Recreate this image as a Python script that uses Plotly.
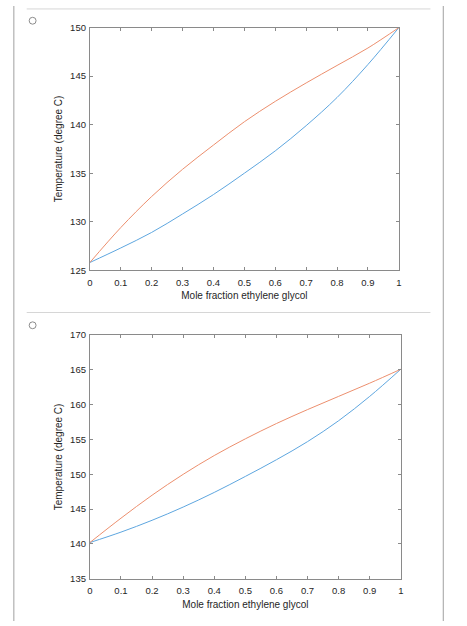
import plotly.graph_objects as go

W, H = 467, 626

x_frac = [0, 0.1, 0.2, 0.3, 0.4, 0.5, 0.6, 0.7, 0.8, 0.9, 1.0]

# Panel 1 (top)
p1_dew = [125.8, 129.4, 132.6, 135.4, 137.9, 140.3, 142.4, 144.3, 146.1, 147.9, 150.0]
p1_bubble = [125.8, 127.3, 128.9, 130.8, 132.8, 135.0, 137.3, 139.9, 142.8, 146.2, 150.0]

# Panel 2 (bottom)
p2_dew = [140.2, 143.7, 147.0, 150.0, 152.7, 155.1, 157.3, 159.3, 161.2, 163.1, 165.1]
p2_bubble = [140.2, 141.7, 143.4, 145.3, 147.4, 149.7, 152.1, 154.7, 157.7, 161.2, 165.1]

x_ticks = [0, 0.1, 0.2, 0.3, 0.4, 0.5, 0.6, 0.7, 0.8, 0.9, 1]
x_ticklabels = ["0", "0.1", "0.2", "0.3", "0.4", "0.5", "0.6", "0.7", "0.8", "0.9", "1"]
y1_ticks = [125, 130, 135, 140, 145, 150]
y2_ticks = [135, 140, 145, 150, 155, 160, 165, 170]

x_title = "Mole fraction ethylene glycol"
y_title = "Temperature (degree C)"

BLUE = "#5ea6df"
RED = "#ec8f6e"
AX = "#8a8a8a"
TXT = "#262626"
FONT = "Liberation Sans, Arial, Helvetica, sans-serif"

def px(x):
    return x / W

def py(y):
    return 1 - y / H

fig = go.Figure()
fig.add_trace(go.Scatter(x=x_frac, y=p1_bubble, mode="lines", line=dict(color=BLUE, width=1, shape="spline"),
                         xaxis="x", yaxis="y", showlegend=False, hoverinfo="skip"))
fig.add_trace(go.Scatter(x=x_frac, y=p1_dew, mode="lines", line=dict(color=RED, width=1, shape="spline"),
                         xaxis="x", yaxis="y", showlegend=False, hoverinfo="skip"))
fig.add_trace(go.Scatter(x=x_frac, y=p2_bubble, mode="lines", line=dict(color=BLUE, width=1, shape="spline"),
                         xaxis="x2", yaxis="y2", showlegend=False, hoverinfo="skip"))
fig.add_trace(go.Scatter(x=x_frac, y=p2_dew, mode="lines", line=dict(color=RED, width=1, shape="spline"),
                         xaxis="x2", yaxis="y2", showlegend=False, hoverinfo="skip"))

common_axis = dict(showline=True, linecolor=AX, linewidth=1, mirror="ticks", ticks="inside",
                   ticklen=3, tickcolor=AX, tickwidth=1, showgrid=False, zeroline=False,
                   tickfont=dict(family=FONT, size=9.5, color=TXT), fixedrange=True)

def xaxis(anchor, dom):
    d = dict(common_axis)
    d.update(domain=dom, anchor=anchor, range=[0, 1], tickvals=x_ticks, ticktext=x_ticklabels,
             ticklabelstandoff=3,
             title=dict(text=x_title, font=dict(family=FONT, size=10, color=TXT), standoff=5))
    return d

def yaxis(anchor, dom, rng, ticks):
    d = dict(common_axis)
    d.update(domain=dom, anchor=anchor, range=rng, tickvals=ticks, ticklabelstandoff=1,
             title=dict(text=y_title, font=dict(family=FONT, size=10, color=TXT), standoff=5))
    return d

fig.update_layout(
    width=W, height=H,
    margin=dict(l=0, r=0, t=0, b=0),
    paper_bgcolor="white", plot_bgcolor="white",
    xaxis=xaxis("y", [px(88), px(401)]),
    yaxis=yaxis("x", [py(269), py(22)], [125, 150], y1_ticks),
    xaxis2=xaxis("y2", [px(88), px(403)]),
    yaxis2=yaxis("x2", [py(583), py(335)], [135, 170], y2_ticks),
)

shapes = []
# outer vertical borders
shapes.append(dict(type="line", xref="paper", yref="paper", x0=px(11), x1=px(11), y0=0, y1=1,
                   line=dict(color="#a0a0a0", width=1)))
shapes.append(dict(type="line", xref="paper", yref="paper", x0=px(446), x1=px(446), y0=0, y1=1,
                   line=dict(color="#a0a0a0", width=1)))
# horizontal separators
for yy in (3, 312):
    shapes.append(dict(type="line", xref="paper", yref="paper", x0=px(24), x1=px(433), y0=py(yy), y1=py(yy),
                       line=dict(color="#d6d6d6", width=1)))
# radio circles
for cy in (15, 325):
    shapes.append(dict(type="circle", xref="paper", yref="paper", x0=px(26.5), x1=px(33.5),
                       y0=py(cy + 3.5), y1=py(cy - 3.5), line=dict(color="#8c8c8c", width=1)))
fig.update_layout(shapes=shapes)

fig.write_html("out.html", config={"displayModeBar": False, "staticPlot": True},
               post_script="document.body.style.margin='0px';document.body.style.overflow='hidden';")
